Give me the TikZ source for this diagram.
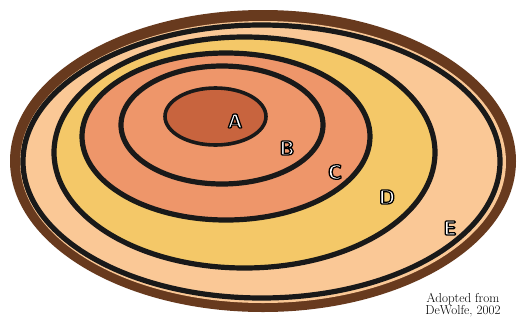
\documentclass[tikz,border=0pt]{standalone}
\usepackage{tikz}
\usetikzlibrary{positioning}
% white letters with a black outline (fill and stroke)
\newcommand{\outlined}[1]{\special{pdf:literal direct 2 Tr 1.8 w 0 0 0 RG}#1\special{pdf:literal direct 0 Tr}}

\begin{document}
\begin{tikzpicture}[x=0.5mm, y=-0.5mm]
    % Colours
    \definecolor{soilbrown}{RGB}{104, 58, 30}
    \definecolor{zonee}{RGB}{250, 200, 150}
    \definecolor{zoned}{RGB}{244, 200, 104}
    \definecolor{zonebc}{RGB}{238, 150, 106}
    \definecolor{zonea}{RGB}{200, 100, 62}
    \tikzset{ring/.style={draw=black!90, line width=2.6mm},
             zonelabel/.style={font=\fontsize{29}{30}\selectfont\sffamily\bfseries, text=white, inner sep=0pt}}

    % Frame
    \useasboundingbox (0,0) rectangle (517,321);

    % Outer brown rim and zone E
    \fill[soilbrown] (263,161) ellipse (253 and 151);
    \fill[zonee] (263,162) ellipse (243 and 141);
    \draw[ring] (261.5,161.5) ellipse (238.5 and 136.5);

    % Zone D
    \filldraw[ring, fill=zoned] (244.5,152.5) ellipse (190.5 and 115.5);

    % Zones C and B
    \filldraw[ring, fill=zonebc] (226,136.5) ellipse (144 and 83.5);
    \filldraw[ring, fill=zonebc] (222,125) ellipse (101 and 59);

    % Zone A
    \filldraw[ring, fill=zonea, line width=1.8mm] (215.5,116.5) ellipse (50.5 and 28.5);

    % Labels
    \node[zonelabel] (la) at (235,121) {\outlined{A}};
    \node[zonelabel] (lb) at (287,148) {\outlined{B}};
    \node[zonelabel] (lc) at (335,172) {\outlined{C}};
    \node[zonelabel] (ld) at (387,197) {\outlined{D}};
    \node[zonelabel] (le) at (450,228) {\outlined{E}};

    % Source
    \node[align=center, font=\fontsize{18.5}{17}\selectfont, inner sep=0pt] (src) at (463,305) {Adopted from\\DeWolfe, 2002};
\end{tikzpicture}
\end{document}
